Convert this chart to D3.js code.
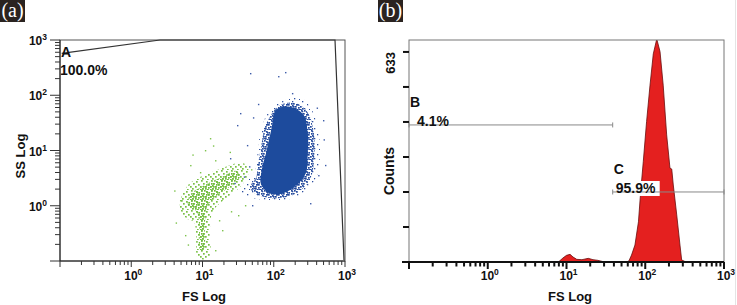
<!DOCTYPE html>
<html>
<head>
<meta charset="utf-8">
<script src="https://cdn.jsdelivr.net/npm/d3@7"></script>
<style>
  body { margin: 0; background: #fff; }
  svg text { font-family: Arial, "Liberation Sans", sans-serif; font-weight: bold; fill: #111; }
  .plabel { font-family: "Liberation Serif", "DejaVu Serif", serif; font-weight: normal; fill: #fff; font-size: 20px; }
</style>
</head>
<body>
<script>
// ---- data ----
const decadeTicks = [1, 10, 100, 1000];           // labelled as 10^0 .. 10^3
const countTickLabels = ['633'];
const countTicks = [0, 105.5, 211, 316.5, 422, 527.5, 633];

// scatter (FS, SS): dense cores drawn as regions, loose events as dots
const blueCore = [[108,55],[169,62],[262,44],[300,21],[300,9.0],[280,3.8],[186,2.1],[120,1.62],[86,1.7],[66,2.5],[68,4.44],[78,9.0],[95,28]];
const blueMid = [[122,66],[205,72],[296,50],[360,23.5],[372,8.3],[326,3.1],[212,1.7],[135,1.4],[83,1.4],[54.6,1.66],[46.4,2.18],[56.4,3.18],[60,5.47],[66,11.1],[78,30]];
const blueHalo = [[144,82],[233,93],[344,54],[418,23.5],[446,8.3],[379,2.92],[233,1.57],[144,1.27],[75,1.27],[46,1.44],[33.6,1.77],[37,2.58],[54.6,4.44],[60,10.2],[68.4,29],[94.4,59]];
const blueLoose = [[46.4,253],[144,264],[115,223],[180,110],[33.6,47.8],[30.5,29],[51,40],[491,35.6],[524,5.5],[42,12.6],[24.3,7.3],[49.5,1.03],[323,1.12],[400,60],[60,70],[38,3.4],[28,2.6],[45,5.2],[500,16],[420,3.6]];
const greenBand = [[5.15,1.57],[6.68,2.58],[9.23,3.31],[13.6,4.08],[20.7,5.02],[31.5,5.94],[42.2,5.47],[43.6,3.61],[33.6,2.18],[22.8,1.44],[16.5,1.03],[13.6,0.74],[12.7,0.364],[12.3,0.113],[8.65,0.113],[8.11,0.296],[7.6,0.508],[5.86,0.60],[4.83,0.91]];
const greenCore = [[6.68,1.57],[10.8,2.38],[18.8,3.31],[29.5,4.26],[33.6,3.31],[22.8,2.09],[14.5,1.38],[11.6,0.95],[10.8,0.449],[10.5,0.158],[9.23,0.158],[8.93,0.449],[8.37,0.77],[6.25,1.03]];
const greenLoose = [[12.7,16.8],[10.8,10.2],[15,6.7],[6.7,5.47],[9.2,4.08],[31.5,0.68],[39.4,1.03],[5.68,0.296],[18.8,0.364],[4.83,1.27],[15,0.158],[7.2,8.5],[24,9.5],[4.2,0.5],[14,12.4],[4,1.9],[25,0.8],[17,0.55],[6.2,0.2],[48,4.6]];

// histogram (FS, counts)
const histFS =     [7.9, 9.0, 10, 11.1, 12.1, 13.5, 15.7, 18.9, 21.7, 25, 29.3, 33.6, 58, 62, 67, 74, 82, 87.5, 94.4, 104, 115, 126.5, 140, 154, 169, 187, 206, 217, 227, 251, 276, 290, 316, 355];
const histCounts = [0,   12,  20, 23,   15,   8,    7,    11,   7,    5,  1,    0,    0,  3,  21, 51, 121, 212, 302, 423, 533, 627,  672, 634, 533, 383, 283, 280, 232, 142, 51,  6,   2,   0];

// gates
const gateA = [[0.1056,574],[2.53,1000],[724,1000],[968,0.104]];
const gateB = [0.1, 38.6], gateBLevel = 413, gateBLabels = ['B', '4.1%'];
const gateC = [38.6, 1000], gateCLevel = 211, gateCLabels = ['C', '95.9%'];
const gateALabels = ['A', '100.0%'];

// ---- drawing ----
const W = 737, H = 305;
const svg = d3.select('body').append('svg').attr('width', W).attr('height', H);
const defs = svg.append('defs');

function dotPattern(id, color, dots, size) {
  const p = defs.append('pattern').attr('id', id)
    .attr('patternUnits', 'userSpaceOnUse').attr('width', 10).attr('height', 10);
  p.selectAll('rect').data(dots).enter().append('rect')
    .attr('x', d => d[0]).attr('y', d => d[1])
    .attr('width', size).attr('height', size).attr('fill', color);
}
const sparse = [[2,1],[7,4],[4,8],[9,9]];
const mid = [[1,0],[6,1],[3,3],[8,4],[0,6],[5,6],[2,8],[7,9]];
const dense = mid.concat([[4,0],[9,2],[1,3],[6,4],[3,6],[8,7],[0,9],[5,8],[2,5],[7,2]]);
dotPattern('blueSparse', '#2c4fa0', sparse, 1.3);
dotPattern('blueMid', '#23499c', dense, 1.7);
dotPattern('greenMid', '#79c044', mid, 1.7);
dotPattern('greenDense', '#6fbb3a', dense, 1.7);

// panel label boxes
function panelLabel(x, txt) {
  svg.append('rect').attr('x', x).attr('y', 0).attr('width', 25).attr('height', 22).attr('fill', '#2a2320');
  svg.append('text').attr('class', 'plabel').attr('x', x + 12.5).attr('y', 17)
    .attr('text-anchor', 'middle').text(txt);
}
panelLabel(0, '(a)');
panelLabel(378, '(b)');
svg.append('line').attr('x1', 735.5).attr('x2', 735.5).attr('y1', 0).attr('y2', H).attr('stroke', '#e4e4e4');

function powLabel(g, v, x, y, anchor) {
  const t = g.append('text').attr('x', x).attr('y', y).attr('text-anchor', anchor).style('font-size', '12px');
  t.append('tspan').text('10');
  t.append('tspan').attr('dy', -5).style('font-size', '8.5px').text(Math.round(Math.log10(v)));
}
const isMajor = v => Math.abs(Math.log10(v) - Math.round(Math.log10(v))) < 1e-6;

// ===== panel (a) =====
const xA = d3.scaleLog().domain([0.1, 1000]).range([60, 345]);
const yA = d3.scaleLog().domain([0.1, 1000]).range([261, 40]);
const gA = svg.append('g');
const lineA = d3.line().x(d => xA(d[0])).y(d => yA(d[1]));
const blob = d3.line().x(d => xA(d[0])).y(d => yA(d[1])).curve(d3.curveCatmullRomClosed);

gA.append('path').attr('d', blob(greenBand)).attr('fill', 'url(#greenMid)');
gA.append('path').attr('d', blob(greenCore)).attr('fill', 'url(#greenDense)');
gA.append('path').attr('d', blob(blueHalo)).attr('fill', 'url(#blueSparse)');
gA.append('path').attr('d', blob(blueMid)).attr('fill', 'url(#blueMid)');
gA.append('path').attr('d', blob(blueCore)).attr('fill', '#1d4b9d');
gA.selectAll('.gl').data(greenLoose).enter().append('rect')
  .attr('x', d => xA(d[0])).attr('y', d => yA(d[1])).attr('width', 1.4).attr('height', 1.4).attr('fill', '#7cc24a');
gA.selectAll('.bl').data(blueLoose).enter().append('rect')
  .attr('x', d => xA(d[0])).attr('y', d => yA(d[1])).attr('width', 1.4).attr('height', 1.4).attr('fill', '#3b5aa8');

// frame + gate A
gA.append('rect').attr('x', 60).attr('y', 40).attr('width', 285).attr('height', 221)
  .attr('fill', 'none').attr('stroke', '#555').attr('stroke-width', 1);
gA.append('path').attr('d', lineA(gateA)).attr('fill', 'none').attr('stroke', '#333').attr('stroke-width', 1.2);
gA.append('text').attr('x', 61).attr('y', 57).style('font-size', '14px').text(gateALabels[0]);
gA.append('text').attr('x', 60).attr('y', 75).style('font-size', '14px').text(gateALabels[1]);

// axes (a)
gA.append('line').attr('x1', 60).attr('x2', 60).attr('y1', 40).attr('y2', 261).attr('stroke', '#222');
gA.append('line').attr('x1', 60).attr('x2', 345).attr('y1', 261).attr('y2', 261).attr('stroke', '#222');
gA.selectAll('.xt').data(xA.ticks()).enter().append('line')
  .attr('x1', d => xA(d)).attr('x2', d => xA(d))
  .attr('y1', 261).attr('y2', d => 261 + (isMajor(d) ? 6 : 4)).attr('stroke', '#333');
gA.selectAll('.yt').data(yA.ticks()).enter().append('line')
  .attr('y1', d => yA(d)).attr('y2', d => yA(d))
  .attr('x1', 60).attr('x2', d => 60 - (isMajor(d) ? 10 : 5)).attr('stroke', '#333');
decadeTicks.forEach(v => powLabel(gA, v, xA(v) + 2, 280, 'middle'));
decadeTicks.forEach(v => powLabel(gA, v, 47, yA(v) + 5, 'end'));
gA.append('text').attr('x', 204).attr('y', 301).attr('text-anchor', 'middle').style('font-size', '13px').text('FS Log');
gA.append('text').attr('transform', 'translate(25,156) rotate(-90)').attr('text-anchor', 'middle')
  .style('font-size', '13px').text('SS Log');

// ===== panel (b) =====
const xB = d3.scaleLog().domain([0.1, 1000]).range([409, 724]);
const yB = d3.scaleLinear().domain([0, 669]).range([262, 40]);
const gB = svg.append('g');
defs.append('clipPath').attr('id', 'clipB').append('rect')
  .attr('x', 409).attr('y', 40).attr('width', 315).attr('height', 222);

const hist = histFS.map((f, i) => [f, histCounts[i]]);
const area = d3.area().x(d => xB(d[0])).y0(yB(0)).y1(d => yB(d[1]));
gB.append('path').attr('d', area(hist)).attr('clip-path', 'url(#clipB)')
  .attr('fill', '#e4201f').attr('stroke', '#6a0d0d').attr('stroke-width', 0.8);

gB.append('rect').attr('x', 409).attr('y', 40).attr('width', 315).attr('height', 222)
  .attr('fill', 'none').attr('stroke', '#777').attr('stroke-width', 1);

// gates B, C
function gate(range, level, labels, boxed, textDx) {
  const y = yB(level), x0 = xB(range[0]), x1 = xB(range[1]);
  if (boxed) gB.append('rect').attr('x', x0 + 2).attr('y', y - 11).attr('width', 45).attr('height', 15).attr('fill', '#fff');
  gB.append('line').attr('x1', x0).attr('x2', x1).attr('y1', y).attr('y2', y).attr('stroke', '#888');
  [x0, x1].forEach(x => gB.append('line').attr('x1', x).attr('x2', x).attr('y1', y - 2.5).attr('y2', y + 2.5).attr('stroke', '#888'));
  gB.append('text').attr('x', x0 + 1).attr('y', y - 18).style('font-size', '14px').text(labels[0]);
  gB.append('text').attr('x', x0 + textDx).attr('y', y + 1).style('font-size', '14px').text(labels[1]);
}
gate(gateB, gateBLevel, gateBLabels, false, 8);
gate(gateC, gateCLevel, gateCLabels, true, 3);

// axes (b)
gB.append('line').attr('x1', 402).attr('x2', 724).attr('y1', 262).attr('y2', 262).attr('stroke', '#111').attr('stroke-width', 2);
gB.selectAll('.yt').data(countTicks).enter().append('line')
  .attr('x1', 403).attr('x2', 409).attr('y1', d => yB(d)).attr('y2', d => yB(d))
  .attr('stroke', '#111').attr('stroke-width', 2);
gB.selectAll('.xt').data(xB.ticks()).enter().append('line')
  .attr('x1', d => xB(d)).attr('x2', d => xB(d))
  .attr('y1', 262).attr('y2', d => 262 + (isMajor(d) ? 7 : 4.5))
  .attr('stroke', '#111').attr('stroke-width', 2);
decadeTicks.forEach(v => powLabel(gB, v, xB(v) + 2, 280, 'middle'));
gB.append('text').attr('transform', `translate(395,${yB(633)}) rotate(-90)`).attr('text-anchor', 'end')
  .style('font-size', '13px').text(countTickLabels[0]);
gB.append('text').attr('transform', 'translate(394,171) rotate(-90)').attr('text-anchor', 'middle')
  .style('font-size', '14px').text('Counts');
gB.append('text').attr('x', 570).attr('y', 301).attr('text-anchor', 'middle').style('font-size', '13px').text('FS Log');
</script>
</body>
</html>
